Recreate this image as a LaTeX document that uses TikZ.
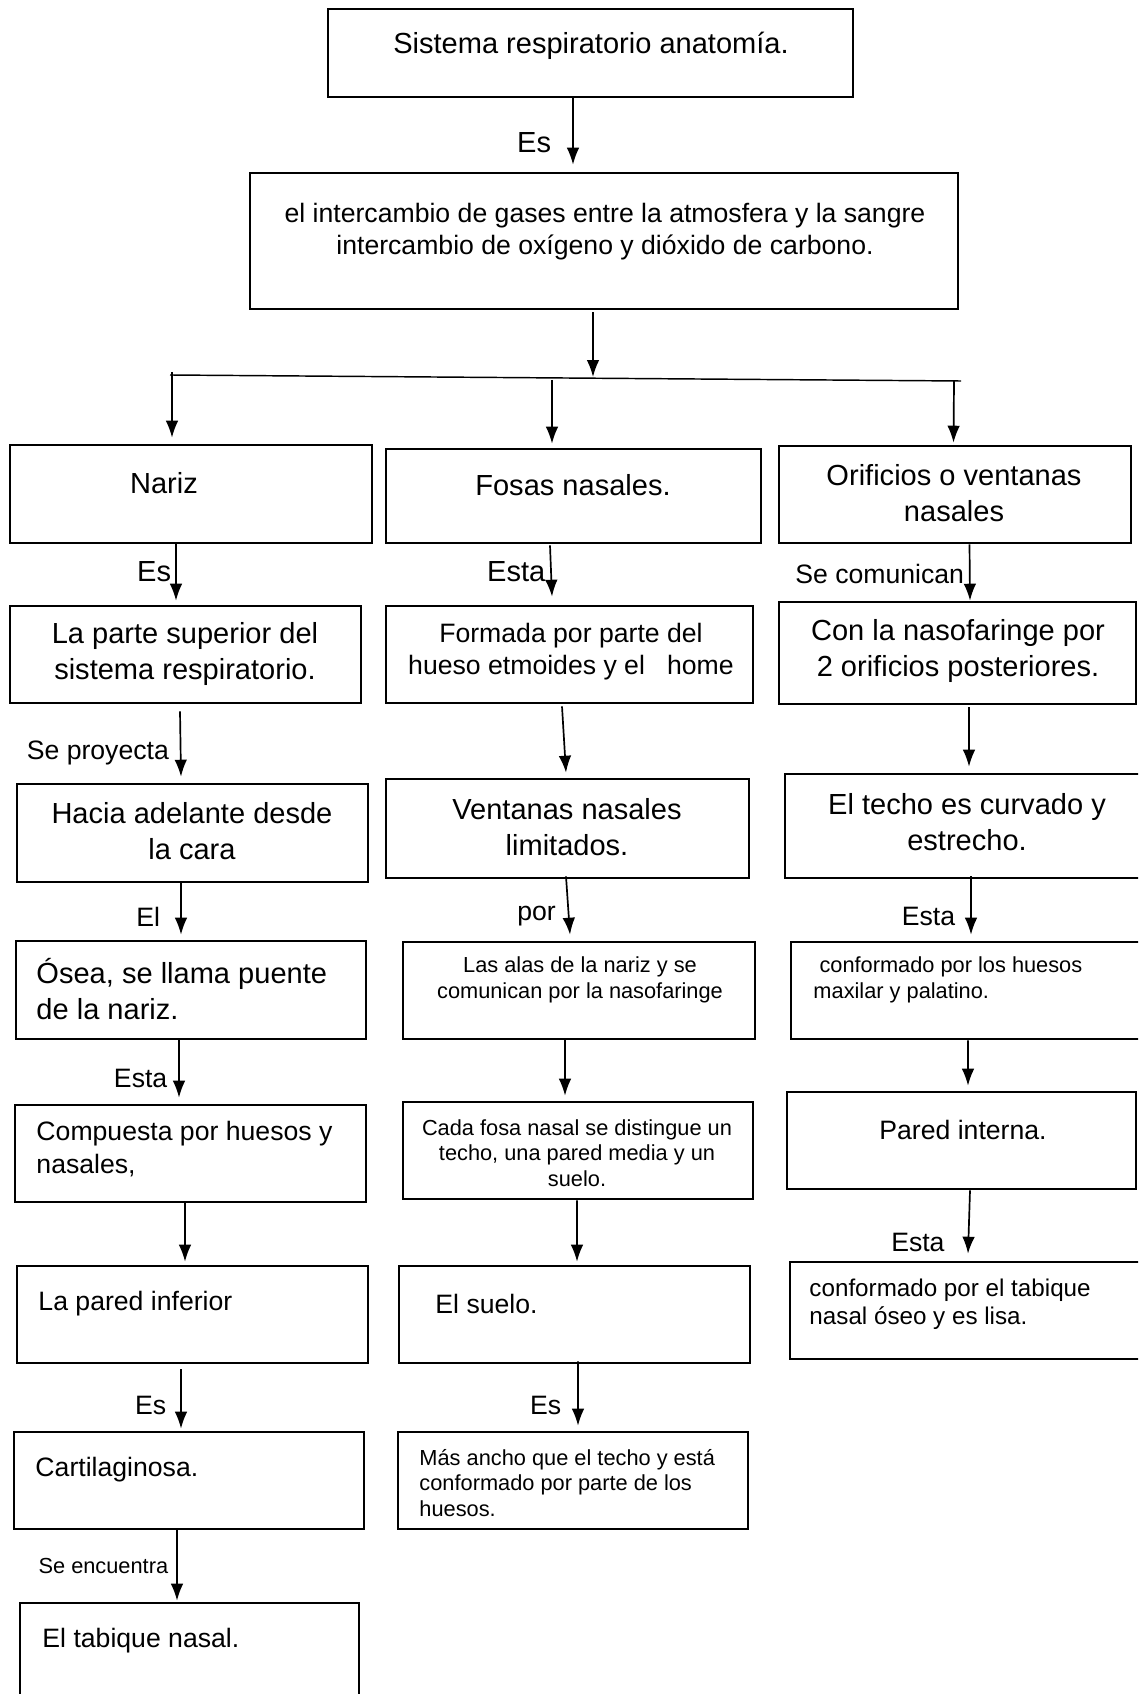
\documentclass[tikz,border=0pt]{standalone}
\usepackage{fontspec}
\setmainfont{Liberation Sans}
\usetikzlibrary{arrows.meta,fit}

\begin{document}
\begin{tikzpicture}[x=0.4132pt,y=-0.4132pt,box/.style={draw,line width=1.1pt,inner sep=0},arr/.style={-{Latex[length=7pt,width=5.2pt]},line width=0.7pt},fL/.style={inner sep=0,font=\fontsize{12}{15}\selectfont},fM/.style={inner sep=0,font=\fontsize{11}{13.3}\selectfont},fS/.style={inner sep=0,font=\fontsize{9}{10.5}\selectfont},fT/.style={inner sep=0,font=\fontsize{10}{11.6}\selectfont}]

\useasboundingbox (0,0) rectangle (1138,1694);
\clip (0,0) rectangle (1138,1694);

% Boxes
\node[box,fit={(328,9) (853,97)}] (tit) {};
\node[box,fit={(250,173) (958,309)}] (def) {};
\node[box,fit={(10,445) (372,543)}] (nariz) {};
\node[box,fit={(386,449) (761,543)}] (fosas) {};
\node[box,fit={(779,446) (1131,543)}] (orif) {};
\node[box,fit={(10,606) (361,703)}] (sup) {};
\node[box,fit={(386,606) (753,703)}] (formada) {};
\node[box,fit={(779,602) (1136,704)}] (naso) {};
\node[box,fit={(17,784) (368,882)}] (hacia) {};
\node[box,fit={(386,779) (749,878)}] (vent) {};
\node[box,fit={(785,774) (1150,878)}] (techo) {};
\node[box,fit={(16,941) (366,1039)}] (osea) {};
\node[box,fit={(403,942) (755,1039)}] (alas) {};
\node[box,fit={(791,942) (1150,1039)}] (maxi) {};
\node[box,fit={(15,1105) (366,1202)}] (comp) {};
\node[box,fit={(403,1102) (753,1199)}] (cada) {};
\node[box,fit={(787,1092) (1136,1189)}] (pared) {};
\node[box,fit={(17,1266) (368,1363)}] (inf) {};
\node[box,fit={(399,1266) (750,1363)}] (suelo) {};
\node[box,fit={(790,1262) (1150,1359)}] (tabq) {};
\node[box,fit={(14,1432) (364,1529)}] (cart) {};
\node[box,fit={(398,1432) (748,1529)}] (ancho) {};
\node[box,fit={(20,1603) (359,1720)}] (septo) {};

% Texts
\node[fL] (tit-t) at (591,46) {Sistema respiratorio anatomía.};
\node[fM,align=center] (def-t) at (605,232) {el intercambio de gases entre la atmosfera y la sangre\\intercambio de oxígeno y dióxido de carbono.};
\node[fL] (nariz-t) at (164,483) {Nariz};
\node[fL] (fosas-t) at (573,485) {Fosas nasales.};
\node[fL,align=center] (orif-t) at (954,493) {Orificios o ventanas\\nasales};
\node[fL,align=center] (sup-t) at (185,654) {La parte superior del\\sistema respiratorio.};
\node[fM,align=center] (formada-t) at (571,652) {Formada por parte del\\hueso etmoides y el\ \ \ home};
\node[fL,align=center] (naso-t) at (958,651) {Con la nasofaringe por\\2 orificios posteriores.};
\node[fL,align=center] (hacia-t) at (192,831) {Hacia adelante desde\\la cara};
\node[fL,align=center] (vent-t) at (567,827) {Ventanas nasales\\limitados.};
\node[fL,align=center] (techo-t) at (967,822) {El techo es curvado y\\estrecho.};
\node[fL,align=left,anchor=west] (osea-t) at (36,989) {Ósea, se llama puente\\de la nariz.};
\node[fS,align=center] (alas-t) at (580,980) {Las alas de la nariz y se\\comunican por la nasofaringe};
\node[fS,align=left,anchor=west] (maxi-t) at (813,980) {\ conformado por los huesos\\maxilar y palatino.};
\node[fM,align=left,anchor=west] (comp-t) at (36,1149) {Compuesta por huesos y\\nasales,};
\node[fS,align=center] (cada-t) at (577,1153) {Cada fosa nasal se distingue un\\techo, una pared media y un\\suelo.};
\node[fM] (pared-t) at (963,1130) {Pared interna.};
\node[fM,anchor=west] (inf-t) at (38,1304) {La pared inferior};
\node[fM,anchor=west] (suelo-t) at (435,1304) {El suelo.};
\node[fT,align=left,anchor=west] (tabq-t) at (809,1304) {conformado por el tabique\\nasal óseo y es lisa.};
\node[fM,anchor=west] (cart-t) at (35,1470) {Cartilaginosa.};
\node[fS,align=left,anchor=west] (ancho-t) at (419,1483) {Más ancho que el techo y está\\conformado por parte de los\\huesos.};
\node[fM,anchor=west] (septo-t) at (42,1641) {El tabique nasal.};

% branch line
\coordinate (j1) at (593,377);
\coordinate (hl) at (170,375);
\coordinate (hr) at (961,381);
\coordinate (dl) at (172,372);
\coordinate (dm) at (552,380);
\coordinate (dr) at (954,381);
\draw[line width=0.6pt] (hl) -- (hr);

%arcs
\draw[arr] ([shift={(-17.5,0)}]tit.south) -- ([shift={(-31,-7)}]def.north) node[fL,pos=.67,left=8.7pt] (e0) {Es};
\draw[arr] ([shift={(-11,2)}]def.south) -- (j1);
\draw[arr] (dl) -- ([shift={(-19,-6)}]nariz.north);
\draw[arr] (dm) -- ([shift={(-21.5,-4)}]fosas.north);
\draw[arr] (dr) -- ([shift={(-1.5,-2)}]orif.north);

\draw[arr] ([shift={(-15,0)}]nariz.south) -- ([shift={(-9.5,-4)}]sup.north) node[fL,pos=.49,left=1.7pt] (e1) {Es};
\draw[arr] ([shift={(-23.5,1)}]fosas.south) -- ([shift={(-17.5,-8)}]formada.north) node[fL,pos=.52,left=2pt] (e2) {Esta};
\draw[arr] ([shift={(14.5,0)}]orif.south) -- ([shift={(12.5,0)}]naso.north) node[fM,pos=.53,left=2pt] (e3) {Se comunican};

\draw[arr] ([shift={(-5.5,7)}]sup.south) -- ([shift={(-11.5,-6)}]hacia.north) node[fM,pos=.63,left=4.5pt] (e4) {Se proyecta};
\draw[arr] ([shift={(-7.5,2)}]formada.south) -- ([shift={(-1.5,-5)}]vent.north);
\draw[arr] ([shift={(11.5,2)}]naso.south) -- ([shift={(1.5,-6)}]techo.north);

\draw[arr] ([shift={(-11.5,0)}]hacia.south) -- ([shift={(-10,-5)}]osea.north) node[fM,pos=.65,left=8.3pt] (e5) {El};
\draw[arr] ([shift={(-1.5,-3)}]vent.south) -- ([shift={(-9,-6)}]alas.north) node[fM,pos=.69,left=5pt] (e6) {por};
\draw[arr] ([shift={(3.5,-3)}]techo.south) -- ([shift={(0.5,-6)}]maxi.north) node[fM,pos=.69,left=6.2pt] (e7) {Esta};

\draw[arr] ([shift={(-12,0)}]osea.south) -- ([shift={(-11.5,-6)}]comp.north) node[fM,pos=.67,left=4.5pt] (e8) {Esta};
\draw[arr] ([shift={(-14,0)}]alas.south) -- ([shift={(-13,-5)}]cada.north);
\draw[arr] ([shift={(-2.5,0)}]maxi.south) -- ([shift={(6.5,-5)}]pared.north);

\draw[arr] ([shift={(-5.5,0)}]comp.south) -- ([shift={(-7.5,-3)}]inf.north);
\draw[arr] ([shift={(-1,0)}]cada.south) -- ([shift={(2.5,-3)}]suelo.north);
\draw[arr] ([shift={(8.5,0)}]pared.south) -- ([shift={(-2,-7)}]tabq.north) node[fM,pos=.82,left=9.5pt] (e9) {Esta};

\draw[arr] ([shift={(-11.5,5)}]inf.south) -- ([shift={(-8,-2)}]cart.north) node[fM,pos=.61,left=5.8pt] (e10) {Es};
\draw[arr] ([shift={(3.5,-3)}]suelo.south) -- ([shift={(5,-5)}]ancho.north) node[fM,pos=.69,left=6.6pt] (e11) {Es};

\draw[arr] ([shift={(-12,0)}]cart.south) -- ([shift={(-12.5,-1)}]septo.north) node[fS,pos=.5,left=3.3pt] (e12) {Se encuentra};

\end{tikzpicture}
\end{document}
